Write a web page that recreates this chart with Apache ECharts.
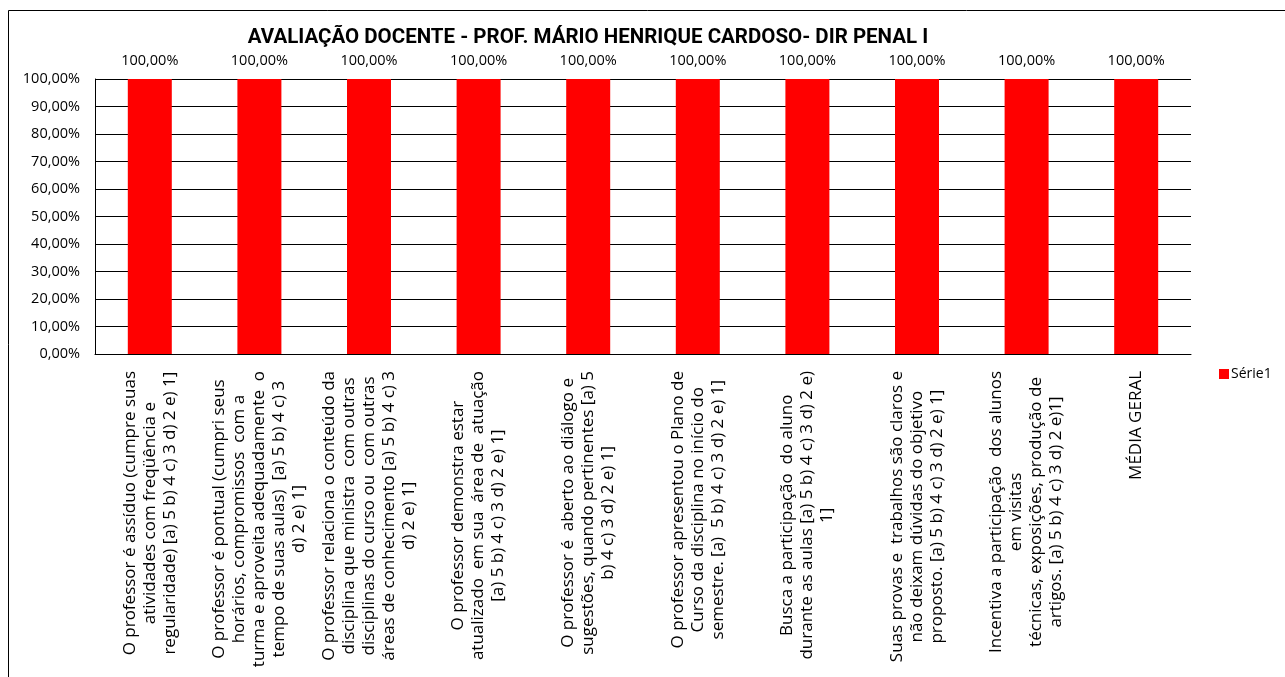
<!DOCTYPE html>
<html>
<head>
<meta charset="utf-8">
<script src="https://cdn.jsdelivr.net/npm/echarts@6/dist/echarts.min.js"></script>
<style>html,body{margin:0;padding:0;background:#fff}#c{width:1285px;height:677px}</style>
</head>
<body>
<div id="c"></div>
<script>
var titleText = 'AVALIAÇÃO DOCENTE - PROF. MÁRIO HENRIQUE CARDOSO- DIR PENAL I';
var categories = [
  'O professor é assíduo (cumpre suas\natividades com freqüência e\nregularidade) [a) 5 b) 4 c) 3 d) 2 e) 1]',
  'O professor é pontual (cumpri seus\nhorários, compromissos  com a\nturma e aproveita adequadamente  o\ntempo de suas aulas)  [a) 5 b) 4 c) 3\nd) 2 e) 1]',
  'O professor relaciona o conteúdo da\ndisciplina que ministra  com outras\ndisciplinas do curso ou  com outras\náreas de conhecimento [a) 5 b) 4 c) 3\nd) 2 e) 1]',
  'O professor demonstra estar\natualizado  em sua  área de  atuação\n[a) 5 b) 4 c) 3 d) 2 e) 1]',
  'O professor é  aberto ao diálogo e\nsugestões, quando pertinentes [a) 5\nb) 4 c) 3 d) 2 e) 1]',
  'O professor apresentou o Plano de\nCurso da disciplina no início do\nsemestre. [a)  5 b) 4 c) 3 d) 2 e) 1]',
  'Busca a participação  do aluno\ndurante as aulas [a) 5 b) 4 c) 3 d) 2 e)\n1]',
  'Suas provas e  trabalhos são claros e\nnão deixam dúvidas do objetivo\nproposto. [a) 5 b) 4 c) 3 d) 2 e) 1]',
  'Incentiva a participação  dos alunos\nem visitas\ntécnicas, exposições, produção de\nartigos. [a) 5 b) 4 c) 3 d) 2 e)1]',
  'MÉDIA GERAL'
];
var seriesName = 'Série1';
var values = [1, 1, 1, 1, 1, 1, 1, 1, 1, 1];

function pct(v) { return (v * 100).toFixed(2).replace('.', ',') + '%'; }

var chart = echarts.init(document.getElementById('c'), null, {renderer: 'canvas'});
var font = 'Open Sans';
chart.setOption({
  animation: false,
  textStyle: {fontFamily: font, color: '#000'},
  graphic: [{
    type: 'rect', left: 6, top: 8, z: -1,
    shape: {width: 1300, height: 700},
    style: {fill: 'none', stroke: '#000', lineWidth: 1}
  }],
  title: {
    text: titleText, left: 588, top: 22, textAlign: 'center',
    textStyle: {fontFamily: 'Roboto', fontWeight: 'bold', fontSize: 20.5, color: '#000'}
  },
  legend: {
    data: [seriesName], left: 1214, top: 362, itemWidth: 10, itemHeight: 10, itemGap: 0,
    icon: 'rect', textStyle: {fontFamily: font, fontSize: 14, color: '#000', padding: [0, 0, 0, -3]}
  },
  grid: {left: 95, top: 79, width: 1096, height: 275, containLabel: false},
  xAxis: {
    type: 'category', data: categories,
    axisLine: {lineStyle: {color: '#000', width: 1}},
    axisTick: {show: false},
    axisLabel: {
      interval: 0, rotate: 90, margin: 17, color: '#000',
      formatter: function (v) { return v.split('\n').map(function (l) { return '{c|' + l + '}'; }).join('\n'); },
      rich: {c: {align: 'center', fontFamily: font, fontSize: 17, lineHeight: 20, color: '#000'}}
    }
  },
  yAxis: {
    type: 'value', min: 0, max: 1, interval: 0.1,
    axisLine: {show: true, lineStyle: {color: '#000', width: 1}},
    axisTick: {show: false},
    splitLine: {lineStyle: {color: '#000', width: 1}},
    axisLabel: {margin: 15, fontFamily: font, fontSize: 14.5, color: '#000', formatter: pct}
  },
  series: [{
    name: seriesName, type: 'bar', data: values, barWidth: 44,
    itemStyle: {color: '#ff0000'},
    label: {show: true, position: 'top', distance: 11, fontFamily: font, fontSize: 14.5, color: '#000',
      formatter: function (p) { return pct(p.value); }}
  }]
});
chart.setOption({title: {left: 583}});
</script>
</body>
</html>
